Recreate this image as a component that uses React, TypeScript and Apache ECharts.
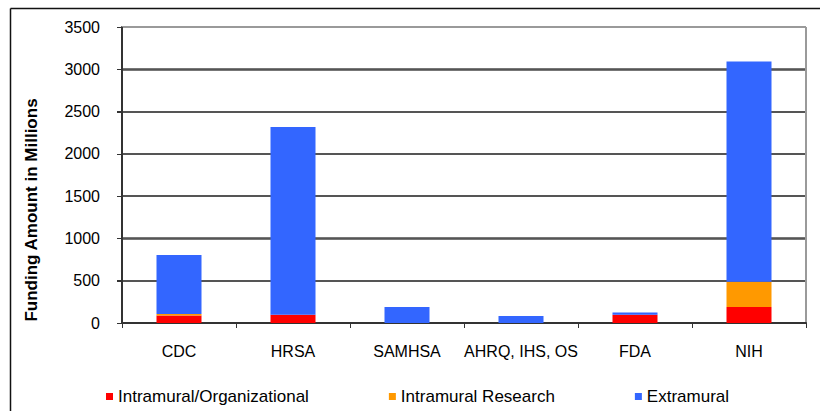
import React, { useEffect, useRef } from "react";
import * as echarts from "echarts";

const categories = ["CDC", "HRSA", "SAMHSA", "AHRQ, IHS, OS", "FDA", "NIH"];
const intramuralOrganizational = [90, 98, 0, 0, 98, 189];
const intramuralResearch = [16, 0, 0, 0, 0, 299];
const extramural = [698, 2219, 189, 83, 27, 2605];
const seriesNames = ["Intramural/Organizational", "Intramural Research", "Extramural"];
const yTitle = "Funding Amount in Millions";
const yTicks = { min: 0, max: 3500, interval: 500 };

const W = 820;
const H = 411;
const GRID = { left: 122, right: 14, top: 27, bottom: 88 };
const LINE_Z = 9;
const BAR_Z = 10;

export default function App() {
  const ref = useRef<HTMLDivElement>(null);
  useEffect(() => {
    if (!ref.current) return;
    const chart = echarts.init(ref.current, undefined, { renderer: "svg" });
    const colors = ["#FF0000", "#FF9900", "#3366FF"];
    const datasets = [intramuralOrganizational, intramuralResearch, extramural];
    chart.setOption({
      animation: false,
      textStyle: { fontFamily: "Arial" },
      grid: { ...GRID },
      legend: {
        left: 101,
        top: 383,
        itemWidth: 7,
        itemHeight: 7,
        itemGap: 80,
        icon: "rect",
        textStyle: { fontSize: 17, color: "#000" },
        data: seriesNames,
      },
      xAxis: {
        type: "category",
        data: categories,
        z: LINE_Z,
        axisLine: { show: true, lineStyle: { color: "#333", width: 2 } },
        axisTick: { show: true, length: 5, lineStyle: { color: "#333" } },
        axisLabel: { fontSize: 16, color: "#000", margin: 20, interval: 0 },
      },
      yAxis: {
        type: "value",
        min: yTicks.min,
        max: yTicks.max,
        interval: yTicks.interval,
        axisLine: { show: true, lineStyle: { color: "#333", width: 2 } },
        axisTick: { show: true, length: 5, lineStyle: { color: "#333" } },
        axisLabel: { fontSize: 16, color: "#000", margin: 22, formatter: (v: number) => String(v) },
        splitLine: { show: true, lineStyle: { color: "#4a4a4a", width: 1.5 } },
      },
      series: seriesNames.map((name, i) => ({
        name,
        type: "bar",
        stack: "total",
        barWidth: 45,
        z: BAR_Z,
        itemStyle: { color: colors[i] },
        data: datasets[i],
      })),
    });

    // grid lines, y axis line, ticks and plot border placed through the y scale
    const xL = GRID.left;
    const xR = W - GRID.right;
    const tickValues: number[] = [];
    for (let v = yTicks.min; v <= yTicks.max; v += yTicks.interval) tickValues.push(v);
    const py = (v: number) => Math.round(chart.convertToPixel({ yAxisIndex: 0 }, v) as number);
    const yTop = py(yTicks.max);
    const yBottom = py(yTicks.min);
    const elements: any[] = [];
    tickValues.forEach((v, i) => {
      const y = py(v);
      const isTop = v === yTicks.max;
      if (v !== yTicks.min) {
        elements.push({
          type: "line",
          id: "grid" + i,
          z: LINE_Z,
          silent: true,
          shape: { x1: xL, y1: y, x2: xR, y2: y },
          style: { stroke: isTop ? "#9a9a9a" : "#4a4a4a", lineWidth: isTop ? 2 : 1.5 },
        });
      }
      elements.push({
        type: "line",
        id: "tick" + i,
        z: LINE_Z,
        silent: true,
        shape: { x1: xL - 5, y1: y + 0.5, x2: xL, y2: y + 0.5 },
        style: { stroke: "#333", lineWidth: 1 },
      });
    });
    elements.push(
      {
        type: "line",
        id: "rightBorder",
        z: LINE_Z,
        silent: true,
        shape: { x1: xR, y1: yTop, x2: xR, y2: yBottom },
        style: { stroke: "#9a9a9a", lineWidth: 2 },
      },
      {
        type: "line",
        id: "yAxisLine",
        z: LINE_Z,
        silent: true,
        shape: { x1: xL, y1: yTop, x2: xL, y2: yBottom + 1 },
        style: { stroke: "#333", lineWidth: 2 },
      },
      {
        type: "text",
        id: "yTitle",
        z: LINE_Z,
        x: 31,
        y: 210,
        rotation: Math.PI / 2,
        style: {
          text: yTitle,
          fontSize: 17,
          fontWeight: "bold",
          fontFamily: "Arial",
          fill: "#000",
          align: "center",
          verticalAlign: "middle",
        },
      },
      {
        type: "line",
        id: "frameTop",
        z: LINE_Z,
        silent: true,
        shape: { x1: 10.5, y1: 8.5, x2: W, y2: 8.5 },
        style: { stroke: "#111", lineWidth: 1.5 },
      },
      {
        type: "line",
        id: "frameLeft",
        z: LINE_Z,
        silent: true,
        shape: { x1: 10.5, y1: 8.5, x2: 10.5, y2: H },
        style: { stroke: "#111", lineWidth: 1.5 },
      }
    );
    chart.setOption({ graphic: elements });
    return () => chart.dispose();
  }, []);
  return (
    <div
      ref={ref}
      style={{ position: "absolute", left: 0, top: 0, width: W, height: H, background: "#fff" }}
    />
  );
}
